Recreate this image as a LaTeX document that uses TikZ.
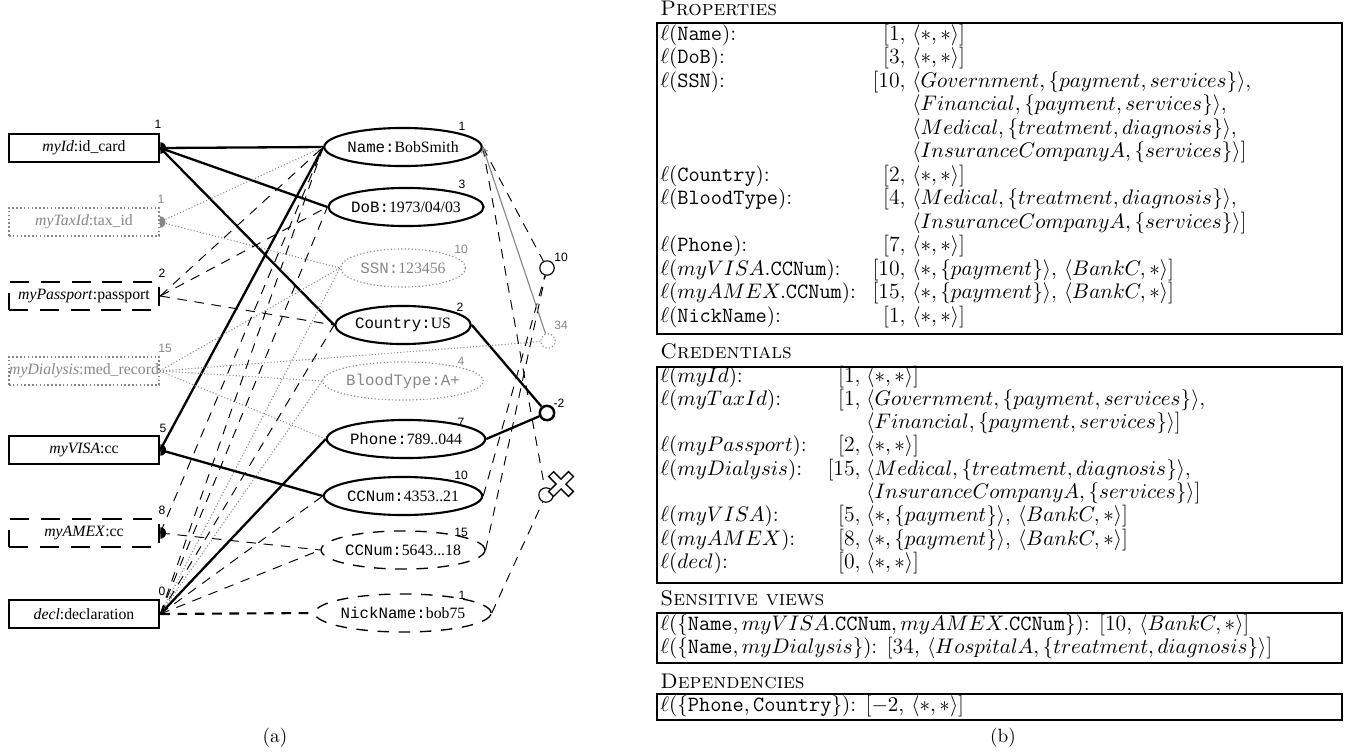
\documentclass[tikz,border=0pt]{standalone}
\usepackage{fontspec}
\usetikzlibrary{shapes.geometric,arrows.meta}
\newfontfamily\tms{Liberation Serif}
\newfontfamily\cour{Liberation Mono}
\newfontfamily\hlv{Liberation Sans}
\definecolor{lgray}{RGB}{135,135,135}
% one row of the Properties table: name, baseline, label, level, purposes
\newcommand\prow[5]{%
  \node[txt] (#1l) at (660,#2) {#3};
  \node[txtr] (#1n) at (906,#2) {#4};
  \node[txt] (#1v) at (912,#2) {#5};}
% one row of the Credentials table
\newcommand\crow[5]{%
  \node[txt] (#1l) at (660,#2) {#3};
  \node[txtr] (#1n) at (861,#2) {#4};
  \node[txt] (#1v) at (866,#2) {#5};}
\newcommand\anyany{$\langle{\ast},{\ast}\rangle$]}
\begin{document}
\begin{tikzpicture}[x=0.52pt,y=-0.52pt,
  cred/.style={draw, rectangle, line width=1.3pt, minimum width=78pt, minimum height=14.5pt,
    inner sep=0pt, font=\tms\fontsize{8.2}{9}\selectfont},
  creddash/.style={cred, dash pattern=on 10pt off 6pt},
  creddot/.style={cred, draw=lgray, text=lgray, line width=0.8pt, dash pattern=on 0.8pt off 1.2pt},
  prop/.style={ellipse, draw, line width=1.1pt, minimum width=65pt, minimum height=19.8pt,
    inner sep=0pt, font=\tms\fontsize{8.2}{9}\selectfont},
  propdash/.style={prop, line width=0.7pt, dash pattern=on 6pt off 5pt},
  propdot/.style={prop, draw=lgray, text=lgray, line width=0.6pt, dash pattern=on 0.6pt off 1.2pt},
  num/.style={inner sep=0pt, font=\hlv\fontsize{6.3}{7}\selectfont},
  numgray/.style={num, text=lgray},
  hub/.style={circle, draw, inner sep=0pt, minimum size=7.5pt, line width=0.6pt},
  thk/.style={line width=1.2pt},
  dsh/.style={line width=0.5pt, dash pattern=on 5pt off 4pt},
  dotg/.style={draw=lgray, line width=0.55pt, dash pattern=on 0.55pt off 1.1pt},
  txt/.style={inner sep=0pt, anchor=base west, font=\fontsize{11.3}{12}\selectfont},
  txtr/.style={inner sep=0pt, anchor=base east, font=\fontsize{11.3}{12}\selectfont},
  hdr/.style={inner sep=0pt, anchor=base west, font=\fontsize{11}{12}\selectfont\scshape},
  tabframe/.style={line width=0.6pt}
]
\useasboundingbox (0,0) rectangle (1358,753);

% ---------- credentials ----------
\node[cred]     (myid) at (84,148) {\textit{myId}:id\_card};
\node[creddot]  (tax)  at (84,222) {\textit{myTaxId}:tax\_id};
\node[creddash] (pass) at (84,296) {\textit{myPassport}:passport};
\node[creddot]  (dial) at (84,371) {\textit{myDialysis}:med\_record};
\node[cred]     (visa) at (84,450) {\textit{myVISA}:cc};
\node[creddash] (amex) at (84,533) {\textit{myAMEX}:cc};
\node[cred]     (decl) at (84,614) {\textit{decl}:declaration};

\node[num]     (nmyid) at (158,124) {1};
\node[numgray] (ntax)  at (161,199) {1};
\node[num]     (npass) at (162,273) {2};
\node[numgray] (ndial) at (165,348) {15};
\node[num]     (nvisa) at (163,428) {5};
\node[num]     (namex) at (162,510) {8};
\node[num]     (ndecl) at (162,591) {0};

% half discs on the issuing side
\foreach \c/\col in {myid/black, tax/lgray, visa/black, amex/black}
  \fill[\col] (\c.east) ++(0,3pt) arc[start angle=90, end angle=-90, radius=3pt] -- cycle;

% ---------- properties ----------
\node[prop]     (name)    at (403,147) {{\cour Name:}BobSmith};
\node[prop]     (dob)     at (406,207) {{\cour DoB:}1973/04/03};
\node[propdot]  (ssn)     at (403,268) {{\cour SSN:}123456};
\node[prop]     (country) at (403,325) {{\cour Country:}US};
\node[propdot]  (blood)   at (403,381) {{\cour BloodType:A+}};
\node[prop]     (phone)   at (406,439) {{\cour Phone:}789..044};
\node[prop]     (cca)     at (403,496) {{\cour CCNum:}4353..21};
\node[propdash] (ccb)     at (403,550) {{\cour CCNum:}5643...18};
\node[propdash] (nick)    at (403,613) {{\cour NickName:}bob75};

\node[num]     (nname)    at (462,126) {1};
\node[num]     (ndob)     at (462,184) {3};
\node[numgray] (nssn)     at (461,249) {10};
\node[num]     (ncountry) at (460,307) {2};
\node[numgray] (nblood)   at (461,361) {4};
\node[num]     (nphone)   at (461,422) {7};
\node[num]     (ncca)     at (461,475) {10};
\node[num]     (nccb)     at (461,532) {15};
\node[num]     (nnick)    at (462,595) {1};

% ---------- views and dependencies ----------
\node[hub] (v10) at (547,268) {};
\node[hub, draw=lgray, dash pattern=on 0.6pt off 1.2pt] (v34) at (548,341) {};
\node[hub, line width=1.3pt] (dep) at (547,413) {};
\node[hub] (vx) at (546,495) {};
\begin{scope}[shift={(561,484)}, rotate=45]
  \filldraw[fill=white, line width=0.7pt] (3.5,14) -- (3.5,3.5) -- (14,3.5) -- (14,-3.5) -- (3.5,-3.5)
    -- (3.5,-14) -- (-3.5,-14) -- (-3.5,-3.5) -- (-14,-3.5) -- (-14,3.5) -- (-3.5,3.5) -- (-3.5,14) -- cycle;
\end{scope}
\node[num]     (nv10) at (561,257) {10};
\node[numgray] (nv34) at (561,325) {34};
\node[num]     (ndep) at (559,403) {-2};

% ---------- connectors ----------
\draw[thk] (myid.east) -- (name.west);
\draw[thk] (myid.east) -- (dob.west);
\draw[thk] (myid.east) -- (country.west);
\draw[thk] (visa.east) -- (name.west);
\draw[thk] (visa.east) -- (cca.west);
\draw[thk] (decl.east) -- (phone.west);
\draw[thk] (country.east) -- (dep);
\draw[thk] (phone.east) -- (dep);

\draw[dotg] (tax.east) -- (name.west);
\draw[dotg] (tax.east) -- (ssn.west);
\draw[dotg] (dial.east) -- (ssn.west);
\draw[dotg] (dial.east) -- (blood.west);
\draw[dotg] (dial.east) -- (phone.west);
\draw[dotg] (dial.east) -- (v34);
\draw[dotg] (decl.east) -- (ssn.west);
\draw[dotg] (decl.east) -- (blood.west);

\draw[dsh] (pass.east) -- (name.west);
\draw[dsh] (pass.east) -- (dob.west);
\draw[dsh] (pass.east) -- (country.west);
\draw[dsh] (amex.east) -- (name.west);
\draw[dsh] (amex.east) -- (ccb.west);
\draw[dsh] (decl.east) -- (name.west);
\draw[dsh] (decl.east) -- (dob.west);
\draw[dsh] (decl.east) -- (country.west);
\draw[dsh] (decl.east) -- (cca.west);
\draw[dsh] (decl.east) -- (ccb.west);
\draw[dsh, line width=1.1pt] (decl.east) -- (nick.west);

\draw[dsh] (name.east) -- (v10);
\draw[dsh] (cca.east) -- (v10);
\draw[dsh] (ccb.east) -- (v10);
\draw[dsh] (name.east) -- (vx);
\draw[dsh] (nick.east) -- (vx);
\draw[lgray, line width=0.6pt, -{To[length=3pt,width=4pt]}] (v34) -- (name.east);

% ---------- tables ----------
\node[hdr] (hprop) at (660,15) {Properties};
\draw[tabframe] (657,23) rectangle (1342,334);
\prow{pa}{40}{$\ell(\texttt{Name})$:}{[1,}{\anyany}
\prow{pb}{63.5}{$\ell(\texttt{DoB})$:}{[3,}{\anyany}
\prow{pc}{87}{$\ell(\texttt{SSN})$:}{[10,}{$\langle Government,\{payment,services\}\rangle$,}
\node[txt] (pc2) at (912,110.5) {$\langle Financial,\{payment,services\}\rangle$,};
\node[txt] (pc3) at (912,134) {$\langle Medical,\{treatment,diagnosis\}\rangle$,};
\node[txt] (pc4) at (912,157.5) {$\langle InsuranceCompanyA,\{services\}\rangle$]};
\prow{pd}{181}{$\ell(\texttt{Country})$:}{[2,}{\anyany}
\prow{pe}{204.5}{$\ell(\texttt{BloodType})$:}{[4,}{$\langle Medical,\{treatment,diagnosis\}\rangle$,}
\node[txt] (pe2) at (912,228) {$\langle InsuranceCompanyA,\{services\}\rangle$]};
\prow{pf}{251.5}{$\ell(\texttt{Phone})$:}{[7,}{\anyany}
\prow{pg}{275}{$\ell(myVISA.\texttt{CCNum})$:}{[10,}{$\langle{\ast},\{payment\}\rangle$, $\langle BankC,{\ast}\rangle$]}
\prow{ph}{298.5}{$\ell(myAMEX.\texttt{CCNum})$:}{[15,}{$\langle{\ast},\{payment\}\rangle$, $\langle BankC,{\ast}\rangle$]}
\prow{pi}{322}{$\ell(\texttt{NickName})$:}{[1,}{\anyany}

\node[hdr] (hcred) at (660,358) {Credentials};
\draw[tabframe] (657,367) rectangle (1342,583);
\crow{ca}{382}{$\ell(myId)$:}{[1,}{\anyany}
\crow{cb}{405.3}{$\ell(myTaxId)$:}{[1,}{$\langle Government,\{payment,services\}\rangle$,}
\node[txt] (cb2) at (866,428.6) {$\langle Financial,\{payment,services\}\rangle$]};
\crow{cc}{451.9}{$\ell(myPassport)$:}{[2,}{\anyany}
\crow{cd}{475.2}{$\ell(myDialysis)$:}{[15,}{$\langle Medical,\{treatment,diagnosis\}\rangle$,}
\node[txt] (cd2) at (866,498.5) {$\langle InsuranceCompanyA,\{services\}\rangle$]};
\crow{ce}{521.8}{$\ell(myVISA)$:}{[5,}{$\langle{\ast},\{payment\}\rangle$, $\langle BankC,{\ast}\rangle$]}
\crow{cf}{545.1}{$\ell(myAMEX)$:}{[8,}{$\langle{\ast},\{payment\}\rangle$, $\langle BankC,{\ast}\rangle$]}
\crow{cg}{568.4}{$\ell(decl)$:}{[0,}{\anyany}

\node[hdr] (hsv) at (660,605) {Sensitive views};
\draw[tabframe] (657,613) rectangle (1342,663);
\node[txt] (sv1) at (660,630) {$\ell(\{\texttt{Name},myVISA.\texttt{CCNum},myAMEX.\texttt{CCNum}\})$: [10, $\langle BankC,{\ast}\rangle$]};
\node[txt] (sv2) at (660,653.5) {$\ell(\{\texttt{Name},myDialysis\})$: [34, $\langle HospitalA,\{treatment,diagnosis\}\rangle$]};

\node[hdr] (hdep) at (660,688) {Dependencies};
\draw[tabframe] (657,694) rectangle (1342,720);
\node[txt] (dp1) at (660,711) {$\ell(\{\texttt{Phone},\texttt{Country}\})$: [$-2$, $\langle{\ast},{\ast}\rangle$]};

% ---------- captions ----------
\node (capa) at (275,738) {(a)};
\node (capb) at (1003,738) {(b)};
\end{tikzpicture}
\end{document}
